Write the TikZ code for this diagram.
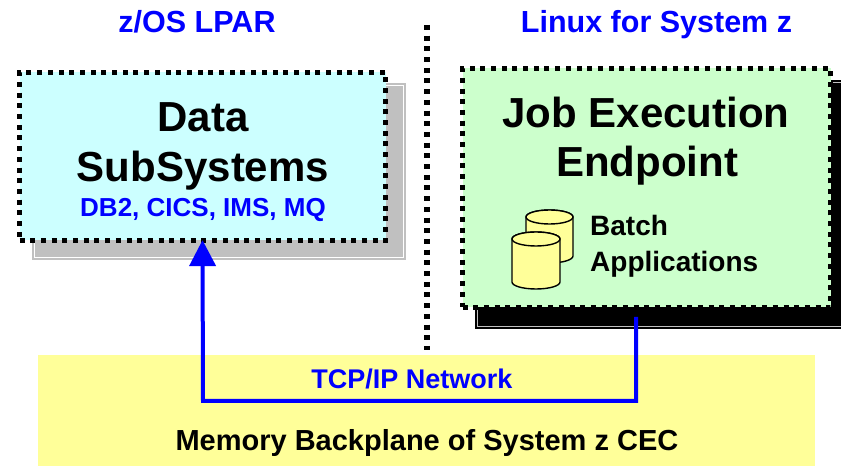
\documentclass[tikz,border=0pt]{standalone}
\usepackage{fontspec}
\setmainfont{Liberation Sans}
\usetikzlibrary{arrows.meta}
\definecolor{zblue}{HTML}{0000FF}
\definecolor{cyanfill}{HTML}{CCFFFF}
\definecolor{greenfill}{HTML}{CCFFCC}
\definecolor{backyellow}{HTML}{FFFF99}
\definecolor{cylyellow}{HTML}{FFFF99}
\definecolor{shadowgray}{HTML}{C0C0C0}
\tikzset{
  dotborder/.style={draw=black, line width=5.2pt, dash pattern=on 5pt off 5.7pt, line cap=butt},
  bigtxt/.style={font=\fontsize{42}{48}\selectfont\bfseries, inner sep=0pt, anchor=base},
  titletxt/.style={font=\fontsize{30.5}{36}\selectfont\bfseries, text=zblue, inner sep=0pt, anchor=base},
  cyl/.style={draw=black, line width=1.4pt, fill=cylyellow},
  netline/.style={draw=zblue, line width=4pt}
}
\begin{document}
\begin{tikzpicture}[x=1pt,y=1pt]
\useasboundingbox (0,0) rectangle (841,466);
% backplane
\fill[backyellow] (38,0) rectangle (815,111);
% vertical dotted separator
\coordinate (septop) at (427,441);
\coordinate (sepbot) at (427,116);
\draw[dotborder] (septop) -- (sepbot);
% titles
\node[titletxt] (tzos) at (197,433) {z/OS LPAR};
\node[titletxt] (tlinux) at (656.5,433) {Linux for System z};
% left box shadow
\fill[shadowgray] (32,206) rectangle (406,383);
\draw[white, line width=0.8pt] (34.5,208.5) rectangle (403.5,380.5);
% left box
\node[dotborder, fill=cyanfill, minimum width=366pt, minimum height=168pt, inner sep=0pt] (ds) at (202.5,309.5) {};
\node[bigtxt] (dsa) at (203,334) {Data};
\node[bigtxt] (dsb) at (203,284) {SubSystems};
\node[font=\fontsize{26}{30}\selectfont\bfseries, text=zblue, inner sep=0pt, anchor=base] (dsc) at (203,249) {DB2, CICS, IMS, MQ};
% right box shadow
\fill[black] (475,137) rectangle (848,386);
\draw[shadowgray, line width=0.8pt] (477.5,139.5) rectangle (845.5,383.5);
% right box
\node[dotborder, fill=greenfill, minimum width=368pt, minimum height=239pt, inner sep=0pt] (je) at (646.5,278) {};
\node[bigtxt] (jea) at (646,338) {Job Execution};
\node[bigtxt] (jeb) at (647,289) {Endpoint};
% cylinders
\path[cyl] (526,249) -- (526,210) arc[start angle=180,end angle=360,x radius=23.5,y radius=7] -- (573,249) arc[start angle=0,end angle=180,x radius=23.5,y radius=7] -- cycle;
\draw[cyl] (549.5,249) ellipse[x radius=23.5,y radius=7];
\path[cyl] (512,227) -- (512,184) arc[start angle=180,end angle=360,x radius=24,y radius=7] -- (560,227) arc[start angle=0,end angle=180,x radius=24,y radius=7] -- cycle;
\draw[cyl] (536,227) ellipse[x radius=24,y radius=7];
\node[font=\fontsize{28}{32}\selectfont\bfseries, inner sep=0pt, anchor=base west] (bat1) at (590,230) {Batch};
\node[font=\fontsize{28}{32}\selectfont\bfseries, inner sep=0pt, anchor=base west] (bat2) at (590,194) {Applications};
% network connector
\coordinate (src) at (636,149);
\coordinate (corner) at (203,65);
\draw[netline, -{Triangle[width=26pt,length=26pt]}, shorten >=-3pt] (src) |- (corner) -- (ds.south);
\node[font=\fontsize{27}{31}\selectfont\bfseries, text=zblue, inner sep=0pt, anchor=base] (tcp) at (412,77) {TCP/IP Network};
\node[font=\fontsize{29}{33}\selectfont\bfseries, inner sep=0pt, anchor=base] (mem) at (427,16) {Memory Backplane of System z CEC};
\end{tikzpicture}
\end{document}
